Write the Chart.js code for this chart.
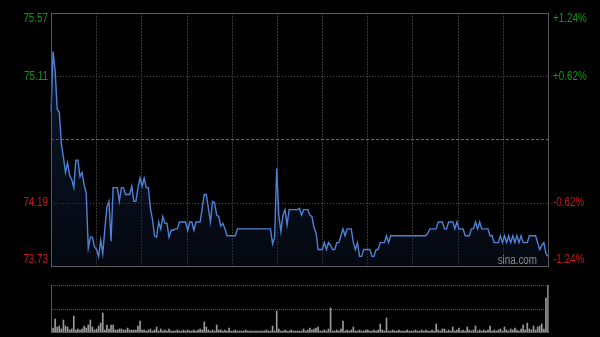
<!DOCTYPE html>
<html>
<head>
<meta charset="utf-8">
<script src="https://cdn.jsdelivr.net/npm/chart.js@4.4.0/dist/chart.umd.min.js"></script>
<style>
  html, body { margin: 0; padding: 0; background: #000; }
  #wrap { position: relative; width: 600px; height: 337px; }
  canvas { position: absolute; left: 0; top: 0; }
</style>
</head>
<body>
<div id="wrap">
  <canvas id="price" width="600" height="337"></canvas>
  <canvas id="vol" width="600" height="337"></canvas>
</div>
<script>
// intraday data, one value per minute (09:30-11:30, 13:01-15:00)
const prevClose = 74.65;
const priceTicks = [75.57, 75.11, 74.65, 74.19, 73.73];
const priceLabels = ['75.57', '75.11', '', '74.19', '73.73'];
const pctLabels = ['+1.24%', '+0.62%', '', '-0.62%', '-1.24%'];
const vGridCount = 11;

const prices = [
  74.85,75.29,75.15,74.87,74.85,74.62,74.52,74.41,74.48,74.39,74.36,74.30,74.50,74.50,74.38,74.41,74.32,74.26,73.86,73.94,
  73.94,73.87,73.85,73.80,73.92,73.82,74.00,74.16,74.20,73.91,74.30,74.30,74.30,74.20,74.30,74.30,74.25,74.25,74.25,74.31,
  74.20,74.20,74.30,74.37,74.31,74.37,74.30,74.30,74.15,74.07,73.95,73.94,74.05,74.00,74.09,74.04,74.04,73.94,73.99,73.99,
  74.00,74.00,74.05,74.05,74.05,74.05,73.99,74.05,74.05,73.99,74.05,74.05,74.05,74.15,74.25,74.25,74.15,74.05,74.20,74.19,
  74.10,74.09,74.02,74.04,74.00,73.95,73.95,73.95,73.95,73.95,74.00,74.00,74.00,74.00,74.00,74.00,74.00,74.00,74.00,74.00,
  74.00,74.00,74.00,74.00,74.00,74.00,74.00,73.89,73.94,74.44,74.10,73.98,74.10,74.14,74.03,74.14,74.14,74.14,74.14,74.14,
  74.15,74.10,74.14,74.14,74.14,74.10,74.09,74.01,73.97,73.85,73.85,73.85,73.90,73.85,73.90,73.88,73.85,73.85,73.90,73.90,
  73.95,74.00,73.95,74.00,74.00,74.00,73.90,73.85,73.90,73.80,73.80,73.85,73.85,73.85,73.85,73.80,73.80,73.85,73.85,73.90,
  73.90,73.90,73.95,73.90,73.95,73.95,73.95,73.95,73.95,73.95,73.95,73.95,73.95,73.95,73.95,73.95,73.95,73.95,73.95,73.95,
  73.95,73.95,73.97,74.00,74.00,74.00,74.00,74.05,74.05,74.05,74.00,74.00,74.05,74.05,74.05,74.00,74.05,74.00,74.00,74.00,
  73.95,73.95,73.95,74.00,74.00,74.05,74.00,74.05,74.00,74.00,74.00,74.00,73.95,73.95,73.90,73.90,73.90,73.95,73.90,73.95,
  73.90,73.95,73.90,73.95,73.90,73.95,73.90,73.95,73.90,73.90,73.90,73.95,73.95,73.95,73.95,73.90,73.85,73.88,73.90,73.82,73.80
];

const volumes = [
  5,4,13,5,6,3,12,6,5,2,3,16,2,3,2,3,6,4,7,12,
  5,2,3,6,9,19,2,7,3,7,7,2,2,3,3,2,2,4,2,2,
  2,2,6,11,2,2,1,2,3,1,2,5,1,3,1,2,1,3,1,1,
  1,2,1,1,2,1,2,1,1,2,1,2,3,2,10,5,2,1,2,1,
  7,2,2,1,2,1,4,1,1,2,1,1,1,1,2,1,1,1,1,1,
  1,1,1,1,2,1,1,6,1,21,3,1,1,2,1,1,2,1,1,1,
  1,1,3,1,2,4,2,3,4,5,1,1,2,1,3,24,1,1,2,1,
  3,11,1,2,1,2,5,1,1,2,1,1,2,2,1,1,2,1,2,8,
  2,1,14,1,1,2,1,1,2,1,1,1,2,1,1,1,2,1,1,2,
  1,2,1,1,2,1,8,2,1,3,3,1,2,1,5,1,2,4,1,2,
  1,5,2,1,2,6,1,2,1,2,1,2,6,1,2,1,2,3,1,5,
  2,1,3,2,4,2,1,3,7,2,9,3,2,6,2,5,6,8,3,34,47
];

// minute labels
const times = [];
for (let m = 570; m <= 690; m++) times.push(Math.floor(m / 60) + ':' + String(m % 60).padStart(2, '0'));
for (let m = 781; m <= 900; m++) times.push(Math.floor(m / 60) + ':' + String(m % 60).padStart(2, '0'));

const FONT = '12px Arial, "Liberation Sans", sans-serif';
const px = v => Math.round(v) + 0.5;

// narrow text: arial squeezed horizontally
function narrowText(ctx, txt, x, y, align) {
  ctx.save();
  ctx.translate(x, y);
  ctx.scale(0.82, 1);
  ctx.textAlign = align;
  ctx.fillText(txt, 0, 0);
  ctx.restore();
}

function hline(ctx, x0, x1, y, color, dash) {
  ctx.save();
  ctx.strokeStyle = color; ctx.lineWidth = 1; ctx.setLineDash(dash || []);
  ctx.beginPath(); ctx.moveTo(x0, px(y)); ctx.lineTo(x1, px(y)); ctx.stroke();
  ctx.restore();
}
function vline(ctx, x, y0, y1, color, dash) {
  ctx.save();
  ctx.strokeStyle = color; ctx.lineWidth = 1; ctx.setLineDash(dash || []);
  ctx.beginPath(); ctx.moveTo(px(x), y0); ctx.lineTo(px(x), y1); ctx.stroke();
  ctx.restore();
}

// grid + labels for the price pane
const priceGrid = {
  id: 'priceGrid',
  beforeDatasetsDraw(chart) {
    const { ctx, chartArea: a, scales: { x, y } } = chart;
    for (let k = 1; k < vGridCount; k++) {
      const gx = x.getPixelForValue(k * (times.length - 1) / vGridCount);
      vline(ctx, gx, a.top, a.bottom, '#363636', [2, 1]);
    }
    priceTicks.forEach(t => {
      if (t === priceTicks[0] || t === priceTicks[priceTicks.length - 1]) return;
      const gy = y.getPixelForValue(t);
      if (t === prevClose) hline(ctx, a.left, a.right, gy, '#6a6a6a', [3, 2]);
      else hline(ctx, a.left, a.right, gy, '#505050', [1, 2]);
    });
  },
  afterDatasetsDraw(chart) {
    const { ctx, chartArea: a, scales: { y } } = chart;
    ctx.save();
    ctx.strokeStyle = '#5a5a5a'; ctx.lineWidth = 1;
    ctx.strokeRect(px(a.left), px(a.top), Math.round(a.right - a.left), Math.round(a.bottom - a.top));
    ctx.font = FONT;
    ctx.textBaseline = 'middle';
    priceTicks.forEach((t, i) => {
      if (!priceLabels[i]) return;
      let ly = y.getPixelForValue(t);
      if (i === 0) ly += 6;
      if (i === priceTicks.length - 1) ly -= 6;
      ctx.fillStyle = t > prevClose ? '#109a10' : '#cc1616';
      narrowText(ctx, priceLabels[i], a.left - 3, ly, 'right');
      narrowText(ctx, pctLabels[i], a.right + 5, ly, 'left');
    });
    ctx.fillStyle = '#8c8c8c';
    narrowText(ctx, 'sina.com', a.right - 11, a.bottom - 5, 'right');
    ctx.restore();
  }
};

// frame for the volume pane
const volGrid = {
  id: 'volGrid',
  beforeDatasetsDraw(chart) {
    const { ctx, chartArea: a } = chart;
    hline(ctx, a.left, a.right, a.top, '#5a5a5a', [1, 1]);
    hline(ctx, a.left, a.right, (a.top + a.bottom) / 2, '#5a5a5a', [1, 1]);
  },
  afterDatasetsDraw(chart) {
    const { ctx, chartArea: a } = chart;
    vline(ctx, a.left, a.top, a.bottom + 1, '#5a5a5a');
    vline(ctx, a.right, a.top, a.bottom + 1, '#5a5a5a');
    hline(ctx, a.left, a.right, a.bottom, '#5a5a5a');
  }
};

new Chart(document.getElementById('price').getContext('2d'), {
  type: 'line',
  data: {
    labels: times,
    datasets: [{
      data: prices,
      borderColor: '#4d82d6',
      borderWidth: 1.4,
      pointRadius: 0,
      tension: 0,
      fill: 'start',
      backgroundColor: (c) => {
        const a = c.chart.chartArea;
        if (!a) return 'rgba(15,30,60,0.4)';
        const g = c.chart.ctx.createLinearGradient(0, a.top, 0, a.bottom);
        g.addColorStop(0, 'rgba(30,60,120,0.45)');
        g.addColorStop(1, 'rgba(12,22,45,0.35)');
        return g;
      }
    }]
  },
  options: {
    responsive: false, animation: false, devicePixelRatio: 1,
    layout: { padding: { left: 51, right: 52, top: 13, bottom: 71 } },
    plugins: { legend: { display: false }, tooltip: { enabled: false } },
    scales: {
      x: { display: false, offset: false },
      y: { display: false, min: priceTicks[priceTicks.length - 1], max: priceTicks[0] }
    }
  },
  plugins: [priceGrid]
});

new Chart(document.getElementById('vol').getContext('2d'), {
  type: 'bar',
  data: {
    labels: times,
    datasets: [{ data: volumes, backgroundColor: '#9a9a9a', barThickness: 1 }]
  },
  options: {
    responsive: false, animation: false, devicePixelRatio: 1,
    layout: { padding: { left: 51, right: 52, top: 285, bottom: 5 } },
    plugins: { legend: { display: false }, tooltip: { enabled: false } },
    scales: {
      x: { display: false, offset: false },
      y: { display: false, min: 0, max: Math.max(...volumes) }
    }
  },
  plugins: [volGrid]
});
</script>
</body>
</html>
